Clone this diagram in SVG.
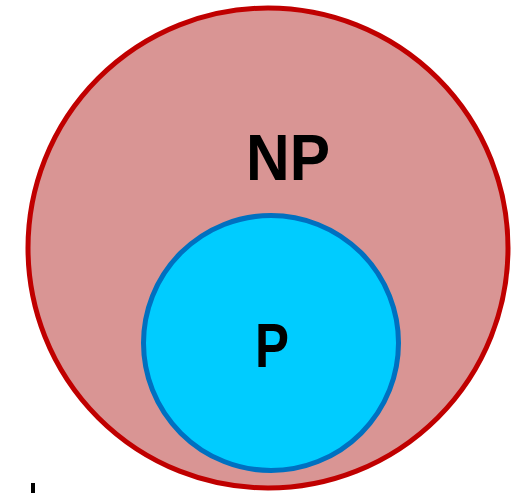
<svg xmlns="http://www.w3.org/2000/svg" width="521" height="493" viewBox="0 0 521 493">
<style>
.lbl{font-family:"Liberation Sans",Arial,sans-serif;font-weight:bold;fill:#000;text-anchor:middle}
</style>
<rect width="521" height="493" fill="#fff"/>
<g id="NP">
<circle cx="268" cy="248" r="240" fill="#D99594" stroke="#C00000" stroke-width="5"/>
<text class="lbl" x="288" y="180" font-size="64" textLength="84" lengthAdjust="spacingAndGlyphs">NP</text>
</g>
<g id="P">
<circle cx="271" cy="343" r="127.5" fill="#00CCFF" stroke="#0070C0" stroke-width="5"/>
<text class="lbl" x="272" y="367" font-size="63" textLength="34" lengthAdjust="spacingAndGlyphs">P</text>
</g>
<g id="connectors"></g>
<rect x="31" y="483" width="4" height="10" fill="#000"/>
</svg>
